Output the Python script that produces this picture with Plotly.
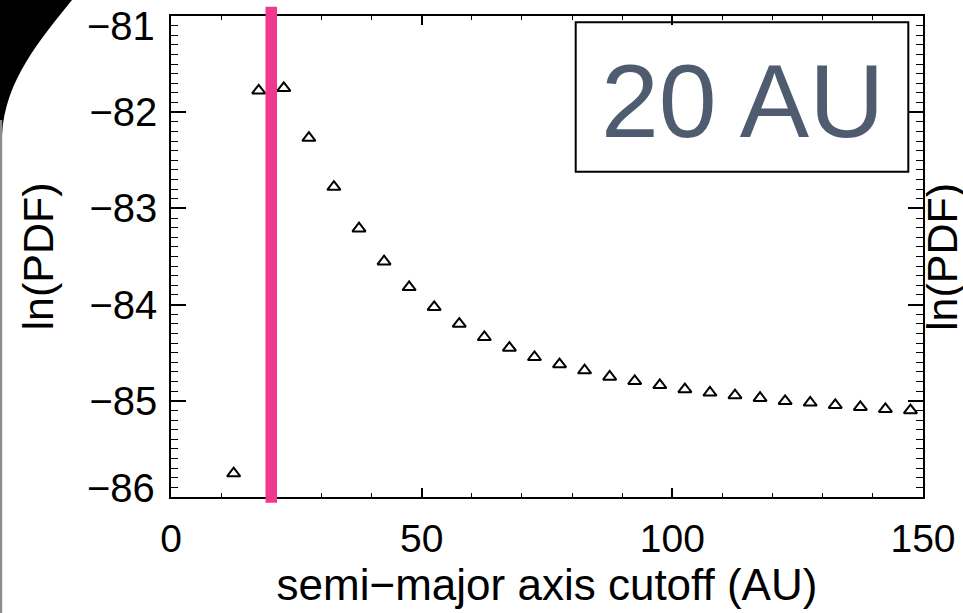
import plotly.graph_objects as go

# ---------------- data ----------------
cutoff_au = [12.5, 17.5, 22.5, 27.5, 32.5, 37.5, 42.5, 47.5, 52.5, 57.5,
             62.5, 67.5, 72.5, 77.5, 82.5, 87.5, 92.5, 97.5, 102.5, 107.5,
             112.5, 117.5, 122.5, 127.5, 132.5, 137.5, 142.5, 147.5]
ln_pdf = [-85.755, -81.775, -81.749, -82.268, -82.777, -83.209, -83.552, -83.819,
          -84.026, -84.200, -84.338, -84.449, -84.546, -84.621, -84.684, -84.750,
          -84.795, -84.838, -84.881, -84.916, -84.943, -84.971, -85.003, -85.020,
          -85.044, -85.065, -85.086, -85.099]
true_cutoff_au = 20
label_text = "20 AU"
x_tick_vals = [0, 50, 100, 150]
x_tick_text = ["0", "50", "100", "150"]
y_tick_vals = [-86, -85, -84, -83, -82, -81]
y_tick_text = ["\u221286", "\u221285", "\u221284", "\u221283", "\u221282", "\u221281"]
x_title = "semi\u2212major axis cutoff (AU)"
y_title = "ln(PDF)"

# ---------------- layout geometry ----------------
W, H = 963, 613
L, R, T, B = 171, 40, 16, 116
PW, PH = W - L - R, H - T - B


def px(x):
    return (x - L) / PW


def py(y):
    return (H - B - y) / PH


FONT = "Liberation Sans, Arial, Helvetica, sans-serif"

fig = go.Figure()
fig.add_trace(go.Scatter(
    x=cutoff_au, y=ln_pdf, mode="markers",
    marker=dict(symbol="triangle-up-open", size=11.5, color="black",
                line=dict(width=2, color="black")),
    cliponaxis=False, showlegend=False, hoverinfo="x+y"))

shapes = []
# pink vertical bar marking the true cutoff
shapes.append(dict(type="rect", xref="x", yref="paper",
                   x0=true_cutoff_au - 1.15, x1=true_cutoff_au + 1.15,
                   y0=py(502.7), y1=py(6.7),
                   fillcolor="#F0388F", line=dict(width=0), layer="above"))
# label box
shapes.append(dict(type="rect", xref="paper", yref="paper",
                   x0=px(575.7), x1=px(908.3), y0=py(171.7), y1=py(22.3),
                   line=dict(color="black", width=2), fillcolor="rgba(0,0,0,0)",
                   layer="above"))
# dark rounded corner (slide background) at top-left
path = "M {},{} L {},{} C {},{} {},{} {},{} L {},{} Z".format(
    px(0), py(0), px(72), py(0),
    px(40), py(40), px(5), py(80), px(2), py(135),
    px(0), py(135))
shapes.append(dict(type="path", xref="paper", yref="paper", path=path,
                   fillcolor="black", line=dict(width=0), layer="above"))
shapes.append(dict(type="rect", xref="paper", yref="paper",
                   x0=px(0), x1=px(2.2), y0=py(613), y1=py(120),
                   fillcolor="#8c8c8c", line=dict(width=0), layer="above"))

# inner tick labels are native; the two end labels are nudged inward (as in the original)
shown_tick_text = [t if v not in (y_tick_vals[0], y_tick_vals[-1]) else ""
                   for v, t in zip(y_tick_vals, y_tick_text)]
annotations = [
    dict(text=y_tick_text[-1], xref="paper", yref="y", x=px(157), y=y_tick_vals[-1],
         xanchor="right", yanchor="middle", yshift=-10, showarrow=False,
         font=dict(family=FONT, size=40, color="black")),
    dict(text=y_tick_text[0], xref="paper", yref="y", x=px(157), y=y_tick_vals[0],
         xanchor="right", yanchor="middle", yshift=9, showarrow=False,
         font=dict(family=FONT, size=40, color="black")),
    dict(text=label_text, xref="paper", yref="paper", x=px(742), y=py(101),
         xanchor="center", yanchor="middle", showarrow=False,
         font=dict(family=FONT, size=104, color="#4F5B6E")),
    dict(text=y_title, xref="paper", yref="paper", x=px(942), y=py(257),
         xanchor="center", yanchor="middle", showarrow=False, textangle=-90,
         font=dict(family=FONT, size=43, color="black")),
]

axis_common = dict(showline=True, linecolor="black", linewidth=1.5,
                   mirror="ticks", showgrid=False, zeroline=False,
                   ticks="inside", tickcolor="black", automargin=False,
                   ticklabeloverflow="allow")

fig.update_layout(
    width=W, height=H,
    margin=dict(l=L, r=R, t=T, b=B, pad=0),
    paper_bgcolor="white", plot_bgcolor="white",
    font=dict(family=FONT, color="black"),
    showlegend=False,
    shapes=shapes, annotations=annotations,
    xaxis=dict(range=[0, 150], tickmode="array", tickvals=x_tick_vals,
               ticktext=x_tick_text, ticklen=9, tickwidth=1.5,
               minor=dict(dtick=10, tick0=0, ticks="inside", ticklen=4.5,
                          tickwidth=1.2, tickcolor="black", showgrid=False),
               tickfont=dict(size=39), ticklabelstandoff=6,
               title=dict(text=x_title, font=dict(size=44), standoff=2),
               **axis_common),
    yaxis=dict(range=[-86, -81], tickmode="array", tickvals=y_tick_vals,
               ticktext=shown_tick_text,
               ticklen=15, tickwidth=1.5,
               minor=dict(dtick=0.1, tick0=-86, ticks="inside", ticklen=7,
                          tickwidth=1.2, tickcolor="black", showgrid=False),
               tickfont=dict(size=40), ticklabelstandoff=4,
               title=dict(text=y_title, font=dict(size=43), standoff=22),
               **axis_common),
)

fig.write_html("out.html")
